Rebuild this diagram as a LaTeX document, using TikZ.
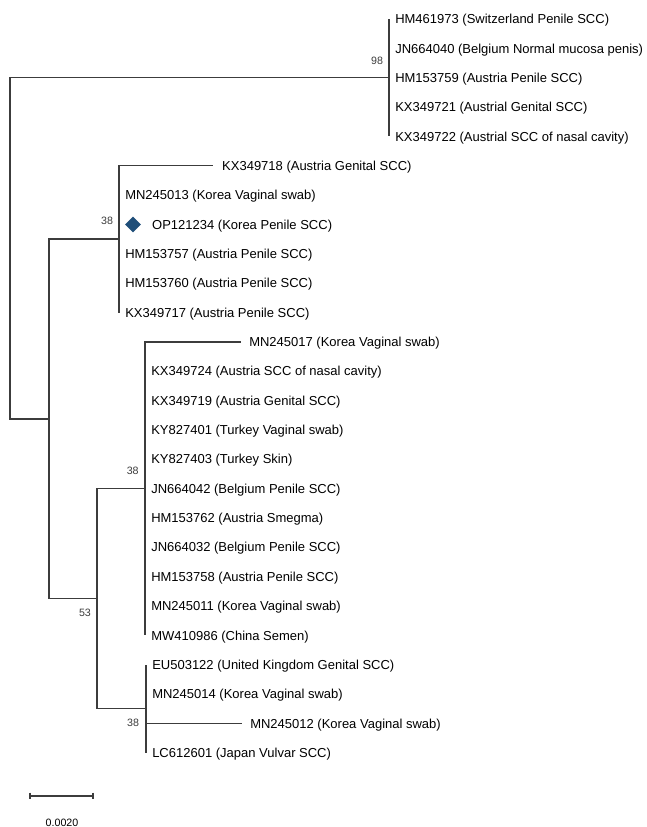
\documentclass[tikz,border=0pt]{standalone}
\usepackage{fontspec}
\setmainfont{Liberation Sans}
\usetikzlibrary{shapes.geometric}
\definecolor{BranchGray}{HTML}{3C3C3C}
\definecolor{MarkBlue}{HTML}{1F4E79}
\tikzset{
  br/.style={draw=BranchGray,line width=1pt},
  tx/.style={anchor=base west,inner sep=0pt,
             font=\fontsize{9.75}{11}\selectfont,
             xshift=4.5pt,yshift=-3.5pt},
  bs/.style={inner sep=0pt,font=\fontsize{8}{9}\selectfont,text=BranchGray},
  mk/.style={diamond,shape aspect=1,fill=MarkBlue,inner sep=0pt,
             minimum width=12pt,minimum height=12pt}
}
\begin{document}
\begin{tikzpicture}[x=0.75pt,y=-0.75pt]
  \useasboundingbox (0,0) rectangle (646,827);
  \coordinate (root) at (10,248.3);
  \coordinate (hm) at (389,77.7);
  \coordinate (in) at (49,418.9);
  \coordinate (op) at (119,239.15);
  \coordinate (low) at (97,598.7);
  \coordinate (mw) at (145,488.6);
  \coordinate (lc) at (146,708.75);
  \draw[br] (hm) -| (root) |- (in);
  \draw[br] (op) -| (in) |- (low);
  \draw[br] (mw) -| (low) |- (lc);

  \foreach \i/\y/\txt in {1/19/{HM461973 (Switzerland Penile SCC)},
      2/48.4/{JN664040 (Belgium Normal mucosa penis)},
      3/77.7/{HM153759 (Austria Penile SCC)},
      4/107/{KX349721 (Austrial Genital SCC)},
      5/136.4/{KX349722 (Austrial SCC of nasal cavity)}}{
    \coordinate (t\i) at (389,\y);
    \draw[br] (hm) |- (t\i);
    \node[tx] (L\i) at (t\i) {\txt};
  }

  \coordinate (t6) at (213,165.8);
  \draw[br] (op) |- (t6);
  \node[tx,xshift=2.2pt] (L6) at (t6) {KX349718 (Austria Genital SCC)};
  \foreach \i/\y/\txt in {7/195.1/{MN245013 (Korea Vaginal swab)},
      9/253.8/{HM153757 (Austria Penile SCC)},
      10/283.2/{HM153760 (Austria Penile SCC)},
      11/312.5/{KX349717 (Austria Penile SCC)}}{
    \coordinate (t\i) at (119,\y);
    \draw[br] (op) |- (t\i);
    \node[tx] (L\i) at (t\i) {\txt};
  }
  \coordinate (t8) at (119,224.5);
  \draw[br] (op) |- (t8);
  \node[mk] (star) at (133,224.5) {};
  \node[tx,xshift=20.2pt] (L8) at (t8) {OP121234 (Korea Penile SCC)};

  \coordinate (t12) at (241,341.9);
  \draw[br] (mw) |- (t12);
  \node[tx,xshift=1.5pt] (L12) at (t12) {MN245017 (Korea Vaginal swab)};
  \foreach \i/\y/\txt in {13/371.2/{KX349724 (Austria SCC of nasal cavity)},
      14/400.6/{KX349719 (Austria Genital SCC)},
      15/429.9/{KY827401 (Turkey Vaginal swab)},
      16/459.3/{KY827403 (Turkey Skin)},
      17/488.6/{JN664042 (Belgium Penile SCC)},
      18/518/{HM153762 (Austria Smegma)},
      19/547.3/{JN664032 (Belgium Penile SCC)},
      20/576.7/{HM153758 (Austria Penile SCC)},
      21/606/{MN245011 (Korea Vaginal swab)},
      22/635.4/{MW410986 (China Semen)}}{
    \coordinate (t\i) at (145,\y);
    \draw[br] (mw) |- (t\i);
    \node[tx] (L\i) at (t\i) {\txt};
  }

  \foreach \i/\y/\txt in {23/664.7/{EU503122 (United Kingdom Genital SCC)},
      24/694/{MN245014 (Korea Vaginal swab)},
      26/752.8/{LC612601 (Japan Vulvar SCC)}}{
    \coordinate (t\i) at (146,\y);
    \draw[br] (lc) |- (t\i);
    \node[tx] (L\i) at (t\i) {\txt};
  }
  \coordinate (t25) at (242,723.4);
  \draw[br] (lc) |- (t25);
  \node[tx,xshift=1.5pt] (L25) at (t25) {MN245012 (Korea Vaginal swab)};

  \node[bs,xshift=-9pt,yshift=12.5pt] (b1) at (hm) {98};
  \node[bs,xshift=-9pt,yshift=13.5pt] (b2) at (op) {38};
  \node[bs,xshift=-9.2pt,yshift=13.5pt] (b3) at (mw) {38};
  \node[bs,xshift=-9pt,yshift=-10.7pt] (b4) at (low) {53};
  \node[bs,xshift=-9.7pt,yshift=-10.7pt] (b5) at (lc) {38};

  \coordinate (s0) at (30,796);
  \coordinate (s1) at (93,796);
  \draw[br] (s0) -- (s1);
  \draw[br] ([yshift=2.6pt]s0) -- ([yshift=-2.6pt]s0);
  \draw[br] ([yshift=2.6pt]s1) -- ([yshift=-2.6pt]s1);
  \node[bs,text=black] (sc) at (62,822.5) {0.0020};
\end{tikzpicture}
\end{document}
